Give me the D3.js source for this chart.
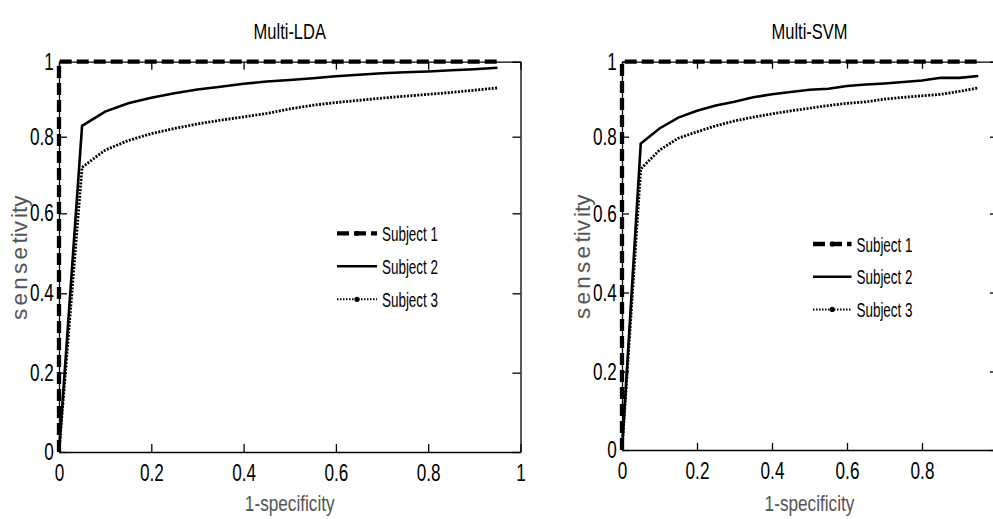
<!DOCTYPE html>
<html>
<head>
<meta charset="utf-8">
<script src="https://cdn.jsdelivr.net/npm/d3@7"></script>
<style>
  body { margin: 0; background: #fff; }
  svg { display: block; }
  .axis .domain, .axis .tick line { stroke: #000; stroke-width: 1.3; }
</style>
</head>
<body>
<svg id="chart"></svg>
<script>
// false positive rate (1-specificity) grid
const fpr = [0, 0.05, 0.1, 0.15, 0.2, 0.25, 0.3, 0.35, 0.4, 0.45, 0.5, 0.55, 0.6, 0.65, 0.7, 0.75, 0.8, 0.85, 0.9, 0.95];
const seriesNames = ["Subject 1", "Subject 2", "Subject 3"];
const panelTitles = ["Multi-LDA", "Multi-SVM"];
const xTicks = [0, 0.2, 0.4, 0.6, 0.8, 1];
const yTicks = [0, 0.2, 0.4, 0.6, 0.8, 1];

// sensitivity values, Multi-LDA
const ldaSubject1 = [1, 1, 1, 1, 1, 1, 1, 1, 1, 1, 1, 1, 1, 1, 1, 1, 1, 1, 1, 1];
const ldaSubject2 = [0, 0.829, 0.867, 0.889, 0.904, 0.916, 0.926, 0.933, 0.941, 0.947, 0.951, 0.956, 0.961, 0.965, 0.969, 0.972, 0.974, 0.977, 0.980, 0.984];
const ldaSubject3 = [0, 0.72, 0.765, 0.79, 0.808, 0.822, 0.834, 0.844, 0.853, 0.862, 0.874, 0.884, 0.891, 0.897, 0.903, 0.908, 0.913, 0.918, 0.924, 0.93];

// sensitivity values, Multi-SVM
const svmSubject1 = [1, 1, 1, 1, 1, 1, 1, 1, 1, 1, 1, 1, 1, 1, 1, 1, 1, 1, 1, 1];
const svmSubject2 = [0, 0.782, 0.822, 0.851, 0.869, 0.883, 0.893, 0.905, 0.913, 0.919, 0.925, 0.928, 0.935, 0.939, 0.942, 0.946, 0.95, 0.957, 0.957, 0.962];
const svmSubject3 = [0, 0.716, 0.765, 0.796, 0.813, 0.829, 0.842, 0.852, 0.861, 0.869, 0.876, 0.883, 0.889, 0.893, 0.9, 0.905, 0.909, 0.913, 0.921, 0.93];

const width = 993, height = 519;
const font = "'Liberation Sans', Arial, Helvetica, sans-serif";
const gray = "#555";

const svg = d3.select("#chart").attr("width", width).attr("height", height)
  .style("font-family", font);
svg.append("rect").attr("width", width).attr("height", height).attr("fill", "#fff");

// line styles per subject
const styles = [
  {width: 4.3, dash: "12,5", marker: true},
  {width: 2.6, dash: null, marker: false},
  {width: 2.8, dash: "2,1.4", marker: true}
];

const panels = [
  {title: panelTitles[0], data: [ldaSubject1, ldaSubject2, ldaSubject3],
   x0: 59, x1: 520.5, yRange: [452, 372.7, 293.3, 213.3, 136.7, 61.7], tick: 8,
   legX: 337, legY: 233.3, legLen: 40, legGap: 33, ylabX: 27},
  {title: panelTitles[1], data: [svmSubject1, svmSubject2, svmSubject3],
   x0: 622, x1: 997, yRange: [450, 371.5, 292.5, 213.5, 136.7, 61.7], tick: 7,
   legX: 813, legY: 244, legLen: 38.5, legGap: 32.7, ylabX: 590}
];

panels.forEach(p => {
  const x = d3.scaleLinear().domain([0, 1]).range([p.x0, p.x1]);
  const y = d3.scaleLinear().domain(yTicks).range(p.yRange);
  const top = p.yRange[p.yRange.length - 1], bottom = p.yRange[0];
  const g = svg.append("g");

  // axes: MATLAB style box with inward ticks; labels past the page edge are cut off
  const xFmt = d => (x(d) > width - 4 ? "" : String(d));
  const bx = g.append("g").attr("class", "axis").attr("transform", `translate(0,${bottom})`)
    .call(d3.axisBottom(x).tickValues(xTicks).tickFormat(xFmt).tickSize(-p.tick).tickSizeOuter(0).tickPadding(12.5));
  bx.selectAll("text").attr("font-size", 23.5).attr("fill", "#000").attr("transform", "scale(0.73,1)");
  g.append("g").attr("class", "axis").attr("transform", `translate(0,${top})`)
    .call(d3.axisTop(x).tickValues(xTicks).tickFormat("").tickSize(-p.tick).tickSizeOuter(0));
  const ly = g.append("g").attr("class", "axis").attr("transform", `translate(${p.x0},0)`)
    .call(d3.axisLeft(y).tickValues(yTicks).tickFormat(d => String(d)).tickSize(-p.tick).tickSizeOuter(0).tickPadding(7));
  ly.selectAll("text").attr("font-size", 23.5).attr("fill", "#000").attr("transform", "scale(0.73,1)");
  g.append("g").attr("class", "axis").attr("transform", `translate(${p.x1},0)`)
    .call(d3.axisRight(y).tickValues(yTicks).tickFormat("").tickSize(-p.tick).tickSizeOuter(0));
  g.selectAll(".axis text").attr("font-family", font);

  // curves (start at ROC origin)
  const line = d3.line().x(d => x(d[0])).y(d => y(d[1]));
  p.data.forEach((vals, i) => {
    const pts = [[0, 0]].concat(fpr.map((f, k) => [f, vals[k]]));
    g.append("path").attr("d", line(pts))
      .attr("fill", "none").attr("stroke", "#000")
      .attr("stroke-width", styles[i].width)
      .attr("stroke-dasharray", styles[i].dash)
      .attr("stroke-linejoin", "miter");
  });

  // title
  g.append("text").attr("transform", `translate(${(p.x0 + p.x1) / 2},39) scale(0.75,1)`)
    .attr("text-anchor", "middle").attr("font-size", 22).attr("fill", "#000").text(p.title);

  // x label
  g.append("text").attr("transform", `translate(${(p.x0 + p.x1) / 2},511) scale(0.8,1)`)
    .attr("text-anchor", "middle").attr("font-size", 21.5).attr("fill", gray).text("1-specificity");

  // y label
  const yl = g.append("text").attr("transform", `translate(${p.ylabX},${(top + bottom) / 2 + 1}) rotate(-90)`)
    .attr("text-anchor", "middle").attr("font-size", 22.5).attr("fill", gray);
  yl.append("tspan").attr("letter-spacing", 3.3).text("sense");
  yl.append("tspan").attr("letter-spacing", 0).text("ti");
  yl.append("tspan").attr("letter-spacing", 3).text("v");
  yl.append("tspan").attr("letter-spacing", 0).text("ity");

  // legend
  seriesNames.forEach((name, i) => {
    const ly0 = p.legY + i * p.legGap;
    const lg = g.append("g");
    lg.append("line").attr("x1", p.legX).attr("x2", p.legX + p.legLen).attr("y1", ly0).attr("y2", ly0)
      .attr("stroke", "#000").attr("stroke-width", i === 2 ? 2 : styles[i].width)
      .attr("stroke-dasharray", i === 2 ? "1.5,1.5" : styles[i].dash);
    if (styles[i].marker) {
      lg.append("circle").attr("cx", p.legX + p.legLen / 2).attr("cy", ly0).attr("r", 2.6).attr("fill", "#000");
    }
    lg.append("text").attr("transform", `translate(${p.legX + p.legLen + 5},${ly0}) scale(0.64,1)`)
      .attr("dy", "0.36em").attr("font-size", 21).attr("fill", "#000").text(name);
  });
});
</script>
</body>
</html>
